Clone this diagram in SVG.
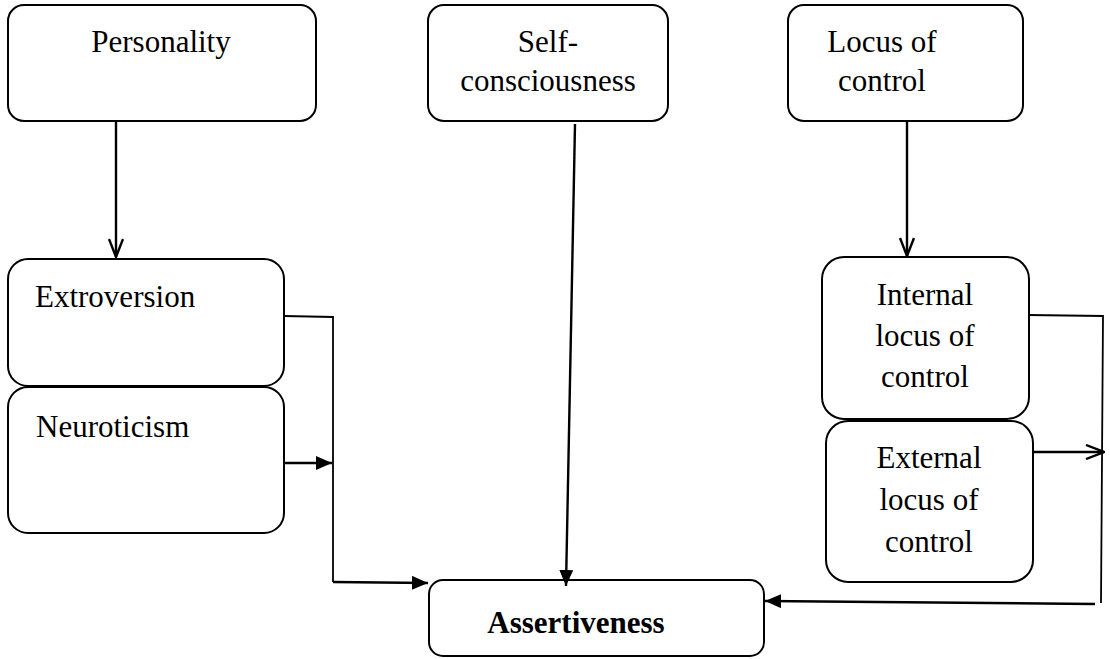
<svg xmlns="http://www.w3.org/2000/svg" width="1110" height="659" viewBox="0 0 1110 659">
<style>
.box{fill:#fff;stroke:#000;stroke-width:2}
.t{font-size:31px;fill:#000}
.c{stroke:#000;stroke-width:2.4;fill:none}
.thin{stroke:#000;stroke-width:1.8;fill:none}
</style>
<defs>
<marker id="open" viewBox="0 0 20 16" refX="19" refY="8" markerWidth="20" markerHeight="16" markerUnits="userSpaceOnUse" orient="auto">
<path d="M1,1 L19,8 L1,15" fill="none" stroke="#000" stroke-width="2.4"/>
</marker>
<marker id="fill" viewBox="0 0 16 14" refX="16" refY="7" markerWidth="16" markerHeight="14" markerUnits="userSpaceOnUse" orient="auto">
<path d="M0,0 L16,7 L0,14 Z" fill="#000"/>
</marker>
</defs>
<rect width="1110" height="659" fill="#fff"/>
<g id="personality"><rect class="box" x="8" y="5" width="308" height="116" rx="16"/><text class="t" style="font-family:'Liberation Serif',serif" x="161" y="52" text-anchor="middle">Personality</text></g>
<g id="selfconsciousness"><rect class="box" x="428" y="5" width="240" height="116" rx="16"/><text class="t" style="font-family:'Liberation Serif',serif" x="548" y="52" text-anchor="middle">Self-</text><text class="t" style="font-family:'Liberation Serif',serif" x="548" y="91" text-anchor="middle">consciousness</text></g>
<g id="locus"><rect class="box" x="788" y="5" width="235" height="116" rx="16"/><text class="t" style="font-family:'Liberation Serif',serif" x="882" y="52" text-anchor="middle">Locus of</text><text class="t" style="font-family:'Liberation Serif',serif" x="882" y="91" text-anchor="middle">control</text></g>
<g id="extroversion"><rect class="box" x="8" y="259" width="276" height="127" rx="20"/><text class="t" style="font-family:'Liberation Serif',serif" x="35" y="307">Extroversion</text></g>
<g id="neuroticism"><rect class="box" x="8" y="387" width="276" height="146" rx="20"/><text class="t" style="font-family:'Liberation Serif',serif" x="36" y="437">Neuroticism</text></g>
<g id="internal"><rect class="box" x="822" y="257" width="207" height="162" rx="22"/><text class="t" style="font-family:'Liberation Serif',serif" x="925" y="305" text-anchor="middle">Internal</text><text class="t" style="font-family:'Liberation Serif',serif" x="925" y="346" text-anchor="middle">locus of</text><text class="t" style="font-family:'Liberation Serif',serif" x="925" y="387" text-anchor="middle">control</text></g>
<g id="external"><rect class="box" x="826" y="421" width="207" height="161" rx="22"/><text class="t" style="font-family:'Liberation Serif',serif" x="929" y="468" text-anchor="middle">External</text><text class="t" style="font-family:'Liberation Serif',serif" x="929" y="510" text-anchor="middle">locus of</text><text class="t" style="font-family:'Liberation Serif',serif" x="929" y="552" text-anchor="middle">control</text></g>
<g id="assertiveness"><rect class="box" x="429" y="580" width="335" height="76" rx="14"/><text class="t" style="font-family:'Liberation Serif',serif" x="576" y="633" text-anchor="middle" font-weight="bold">Assertiveness</text></g>
<g id="connectors">
<line class="c" x1="116" y1="121" x2="116" y2="257" marker-end="url(#open)"/>
<line class="c" x1="907" y1="121" x2="907" y2="256" marker-end="url(#open)"/>
<line class="c" x1="575" y1="124" x2="566" y2="586" marker-end="url(#fill)"/>
<polyline class="thin" points="284,316 333,317 333,582"/>
<line class="c" x1="283" y1="463" x2="332" y2="463" marker-end="url(#fill)"/>
<line class="c" x1="333" y1="582" x2="428" y2="583" marker-end="url(#fill)"/>
<polyline class="thin" points="1028,315 1103,316 1101,603"/>
<line class="c" x1="1033" y1="452" x2="1104" y2="452" marker-end="url(#open)"/>
<line class="c" x1="1095" y1="604" x2="765" y2="601" marker-end="url(#fill)"/>
</g>
</svg>
